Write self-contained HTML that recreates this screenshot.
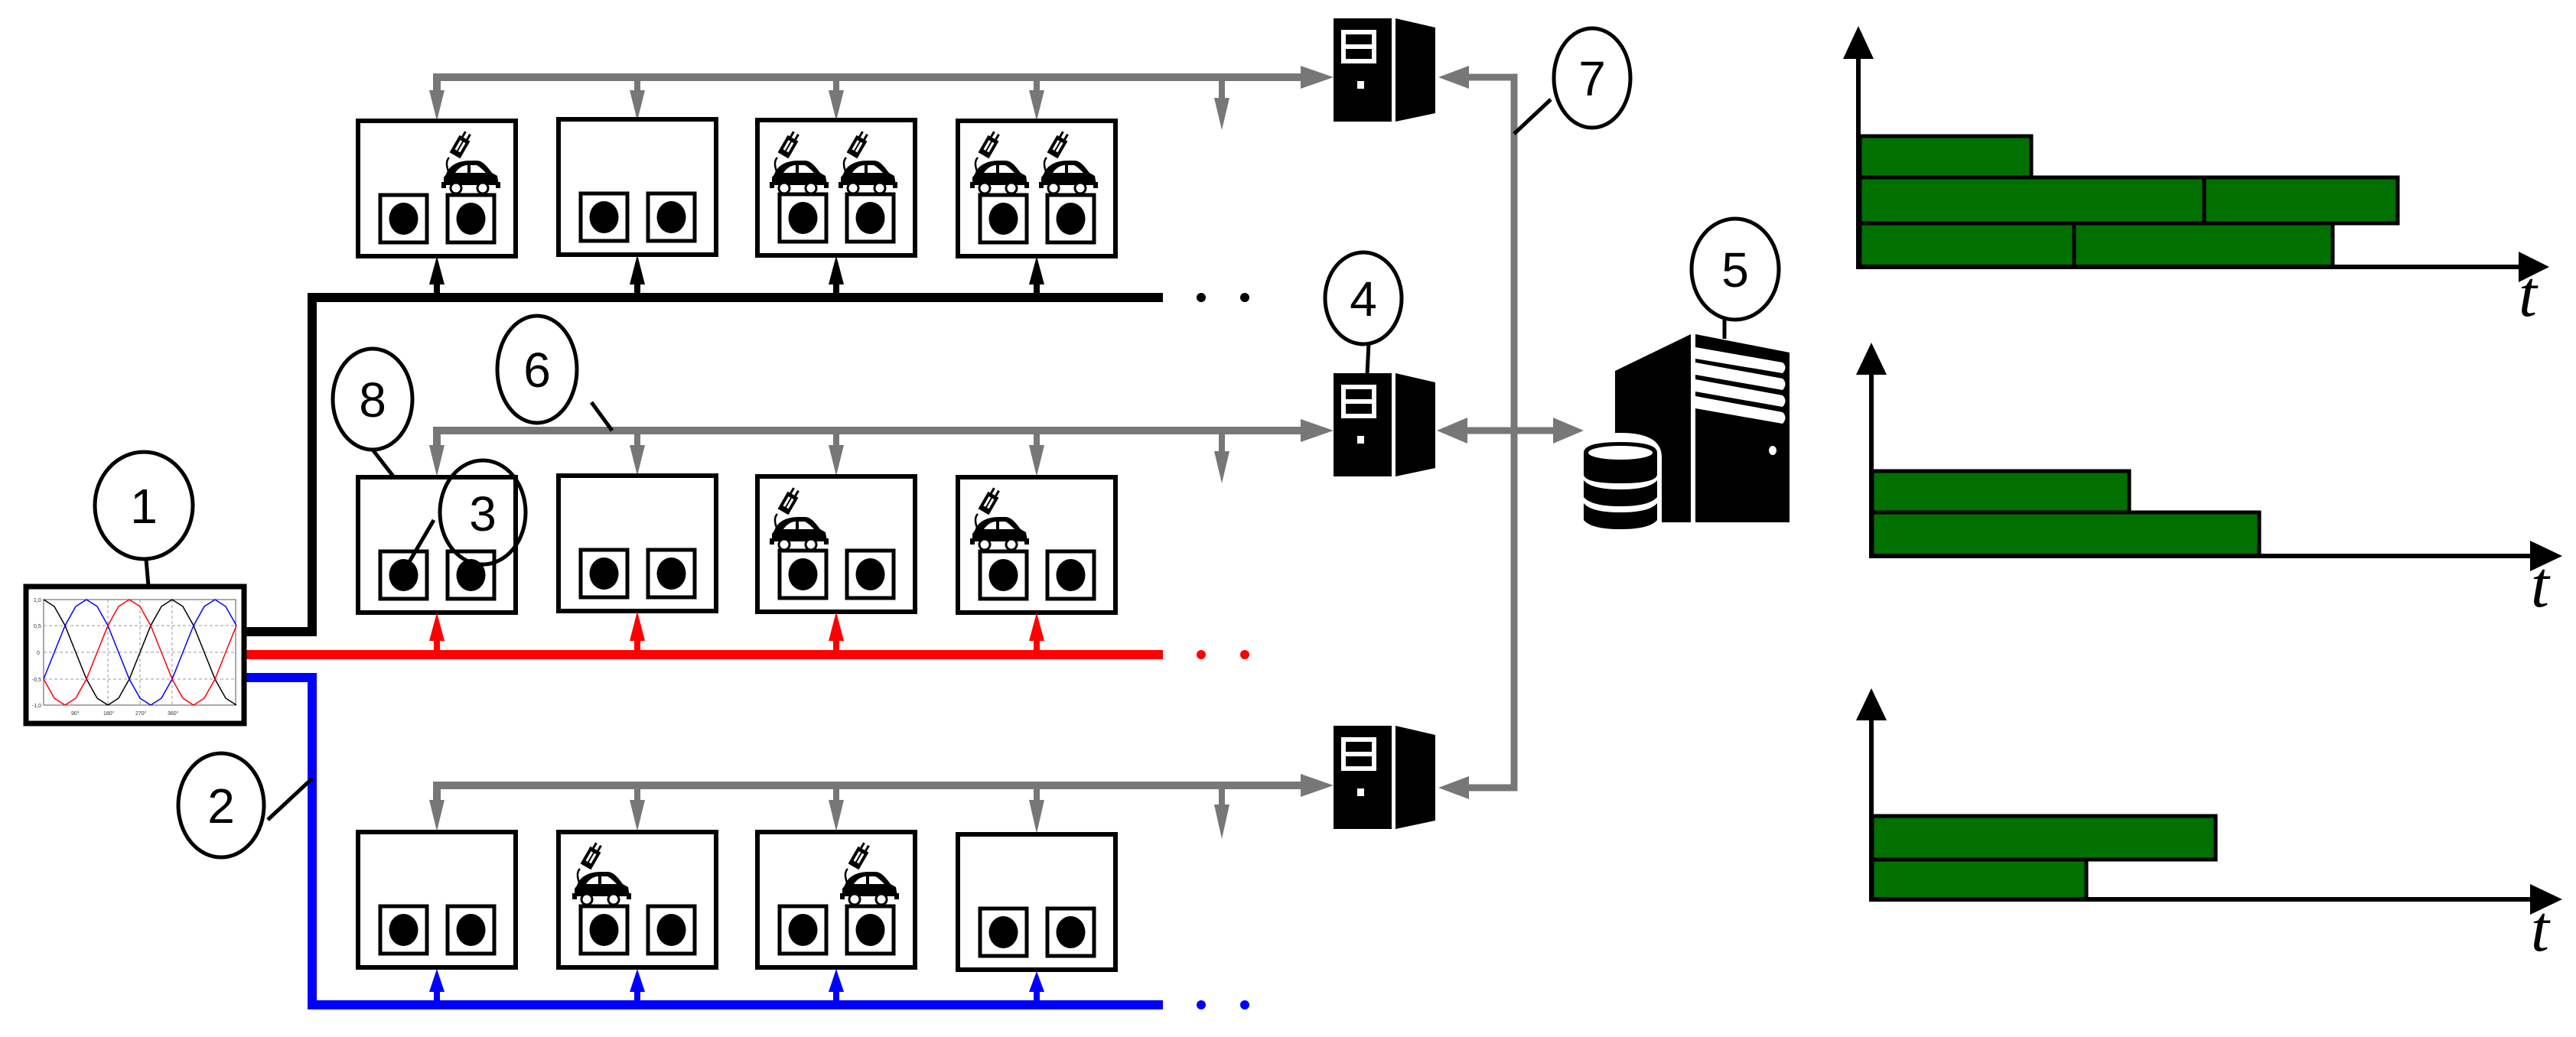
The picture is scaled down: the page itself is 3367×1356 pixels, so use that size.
<!DOCTYPE html>
<html><head><meta charset="utf-8"><style>
html,body{margin:0;padding:0;background:#fff;}
svg{display:block;}
text{font-family:"Liberation Sans",sans-serif;}
</style></head><body>
<svg width="3367" height="1356" viewBox="0 0 3367 1356" xmlns="http://www.w3.org/2000/svg">
<defs>
  <g id="st">
    <rect x="0" y="0" width="206" height="177" fill="#fff" stroke="#000" stroke-width="6"/>
    <rect x="29" y="97" width="61" height="62" fill="#fff" stroke="#000" stroke-width="5"/>
    <rect x="117" y="97" width="61" height="62" fill="#fff" stroke="#000" stroke-width="5"/>
    <ellipse cx="59.5" cy="128" rx="19" ry="21" fill="#000"/>
    <ellipse cx="147.5" cy="128" rx="19" ry="21" fill="#000"/>
  </g>
  <g id="car">
    <path d="M12,56 C8,46 4,36 10,30" fill="none" stroke="#000" stroke-width="2.5"/>
    <g transform="translate(24,16) rotate(30)">
      <rect x="-8" y="-13" width="16" height="26" fill="#000"/>
      <rect x="-4" y="-8" width="3" height="14" fill="#fff"/>
      <rect x="1" y="-8" width="3" height="14" fill="#fff"/>
      <rect x="-5" y="-21" width="3" height="8" fill="#000"/>
      <rect x="2" y="-21" width="3" height="8" fill="#000"/>
    </g>
    <path d="M6,52 C10,40 22,34 38,34 L46,34 C54,34 60,42 66,50 L73,54 L75,66 L3,66 L3,56 Z" fill="#000"/>
    <path d="M18,50 C22,44 28,40 34,40 L34,50 Z M38,40 L46,40 C50,42 54,46 58,50 L38,50 Z" fill="#fff"/>
    <rect x="0" y="62" width="6" height="8" fill="#000"/>
    <rect x="71" y="62" width="6" height="8" fill="#000"/>
    <circle cx="19" cy="70" r="7" fill="#fff" stroke="#000" stroke-width="3"/>
    <circle cx="54" cy="70" r="7" fill="#fff" stroke="#000" stroke-width="3"/>
  </g>
  <g id="srv">
    <rect x="0" y="0" width="76" height="135" fill="#000"/>
    <rect x="10" y="15" width="46" height="44" fill="#fff"/>
    <rect x="16" y="21" width="34" height="13" fill="#000"/>
    <rect x="16" y="40" width="34" height="13" fill="#000"/>
    <rect x="31" y="82" width="9" height="10" fill="#fff"/>
    <path d="M81,0 L133,12 L133,124 L81,135 Z" fill="#000"/>
  </g>
</defs>

<!-- ===== Row 1 ===== -->
<polyline points="571,124 571,101 1705,101" fill="none" stroke="#777" stroke-width="10"/>
<polygon points="1700,86 1743,101 1700,116" fill="#777"/>
<g stroke="#777" stroke-width="8">
<line x1="833" y1="101" x2="833" y2="125"/><line x1="1093" y1="101" x2="1093" y2="125"/><line x1="1355" y1="101" x2="1355" y2="125"/><line x1="1597" y1="101" x2="1597" y2="135"/>
</g>
<g fill="#777">
<polygon points="561,118 581,118 571,158"/><polygon points="823,118 843,118 833,158"/><polygon points="1083,118 1103,118 1093,158"/><polygon points="1345,118 1365,118 1355,158"/><polygon points="1587,128 1607,128 1597,170"/>
</g>
<use href="#st" x="468" y="158"/><use href="#st" x="730" y="156"/><use href="#st" x="990" y="157"/><use href="#st" x="1252" y="158"/>
<use href="#car" x="577" y="176"/>
<use href="#car" x="1006" y="176"/><use href="#car" x="1096" y="176"/>
<use href="#car" x="1268" y="176"/><use href="#car" x="1358" y="176"/>
<polyline points="318,826 408,826 408,389 1520,389" fill="none" stroke="#000" stroke-width="12"/>
<g stroke="#000" stroke-width="8"><line x1="571" y1="389" x2="571" y2="365"/><line x1="833" y1="389" x2="833" y2="365"/><line x1="1093" y1="389" x2="1093" y2="365"/><line x1="1355" y1="389" x2="1355" y2="365"/></g>
<g fill="#000"><polygon points="561,372 581,372 571,335"/><polygon points="823,372 843,372 833,333"/><polygon points="1083,372 1103,372 1093,334"/><polygon points="1345,372 1365,372 1355,335"/></g>
<circle cx="1570" cy="389" r="6" fill="#000"/><circle cx="1627" cy="389" r="6" fill="#000"/>

<!-- ===== Row 2 ===== -->
<polyline points="571,588 571,563 1705,563" fill="none" stroke="#777" stroke-width="10"/>
<polygon points="1700,548 1743,563 1700,578" fill="#777"/>
<g stroke="#777" stroke-width="8">
<line x1="833" y1="563" x2="833" y2="588"/><line x1="1093" y1="563" x2="1093" y2="588"/><line x1="1355" y1="563" x2="1355" y2="588"/><line x1="1597" y1="563" x2="1597" y2="595"/>
</g>
<g fill="#777">
<polygon points="561,582 581,582 571,623"/><polygon points="823,582 843,582 833,622"/><polygon points="1083,582 1103,582 1093,622"/><polygon points="1345,582 1365,582 1355,623"/><polygon points="1587,590 1607,590 1597,632"/>
</g>
<use href="#st" x="468" y="624"/><use href="#st" x="730" y="622"/><use href="#st" x="990" y="623"/><use href="#st" x="1252" y="624"/>
<use href="#car" x="1006" y="642"/><use href="#car" x="1268" y="642"/>
<line x1="318" y1="856" x2="1520" y2="856" stroke="#f00" stroke-width="12"/>
<g stroke="#f00" stroke-width="8"><line x1="571" y1="856" x2="571" y2="832"/><line x1="833" y1="856" x2="833" y2="832"/><line x1="1093" y1="856" x2="1093" y2="832"/><line x1="1355" y1="856" x2="1355" y2="832"/></g>
<g fill="#f00"><polygon points="561,838 581,838 571,801"/><polygon points="823,838 843,838 833,799"/><polygon points="1083,838 1103,838 1093,800"/><polygon points="1345,838 1365,838 1355,801"/></g>
<circle cx="1570" cy="856" r="6" fill="#f00"/><circle cx="1627" cy="856" r="6" fill="#f00"/>

<!-- ===== Row 3 ===== -->
<polyline points="571,1050 571,1027 1705,1027" fill="none" stroke="#777" stroke-width="10"/>
<polygon points="1700,1012 1743,1027 1700,1042" fill="#777"/>
<g stroke="#777" stroke-width="8">
<line x1="833" y1="1027" x2="833" y2="1052"/><line x1="1093" y1="1027" x2="1093" y2="1052"/><line x1="1355" y1="1027" x2="1355" y2="1052"/><line x1="1597" y1="1027" x2="1597" y2="1058"/>
</g>
<g fill="#777">
<polygon points="561,1046 581,1046 571,1087"/><polygon points="823,1046 843,1046 833,1087"/><polygon points="1083,1046 1103,1046 1093,1087"/><polygon points="1345,1046 1365,1046 1355,1090"/><polygon points="1587,1052 1607,1052 1597,1097"/>
</g>
<use href="#st" x="468" y="1088"/><use href="#st" x="730" y="1088"/><use href="#st" x="990" y="1088"/><use href="#st" x="1252" y="1091"/>
<use href="#car" x="748" y="1106"/><use href="#car" x="1098" y="1106"/>
<polyline points="318,886 408,886 408,1314 1520,1314" fill="none" stroke="#00f" stroke-width="12"/>
<g stroke="#00f" stroke-width="8"><line x1="571" y1="1314" x2="571" y2="1290"/><line x1="833" y1="1314" x2="833" y2="1290"/><line x1="1093" y1="1314" x2="1093" y2="1290"/><line x1="1355" y1="1314" x2="1355" y2="1290"/></g>
<g fill="#00f"><polygon points="561,1297 581,1297 571,1267"/><polygon points="823,1297 843,1297 833,1267"/><polygon points="1083,1297 1103,1297 1093,1267"/><polygon points="1345,1297 1365,1297 1355,1270"/></g>
<circle cx="1570" cy="1314" r="6" fill="#00f"/><circle cx="1627" cy="1314" r="6" fill="#00f"/>

<!-- ===== Waveform box ===== -->
<rect x="34" y="767" width="285" height="179" fill="#fff" stroke="#000" stroke-width="7"/>
<rect x="57" y="784" width="251" height="138" fill="#fff" stroke="#555" stroke-width="1"/>
<g stroke="#999" stroke-width="1" stroke-dasharray="4,3">
<line x1="57" y1="818" x2="308" y2="818"/><line x1="57" y1="853" x2="308" y2="853"/><line x1="57" y1="888" x2="308" y2="888"/>
<line x1="141" y1="784" x2="141" y2="922"/><line x1="183" y1="784" x2="183" y2="922"/><line x1="225" y1="784" x2="225" y2="922"/>
</g>
<polyline fill="none" stroke="#000" stroke-width="1.5" points="57,784 71,793 85,818 99,853 113,888 127,913 141,922 155,913 169,888 183,853 197,818 211,793 225,784 239,793 253,818 267,853 281,888 295,913 309,922"/>
<polyline fill="none" stroke="#00f" stroke-width="1.5" points="57,888 71,853 85,818 99,793 113,784 127,793 141,818 155,853 169,888 183,913 197,922 211,913 225,888 239,853 253,818 267,793 281,784 295,793 309,818"/>
<polyline fill="none" stroke="#f00" stroke-width="1.5" points="57,888 71,913 85,922 99,913 113,888 127,853 141,818 155,793 169,784 183,793 197,818 211,853 225,888 239,913 253,922 267,913 281,888 295,853 309,818"/>
<g font-size="7" fill="#333"><text x="44" y="787">1,0</text><text x="44" y="821">0,5</text><text x="48" y="856">0</text><text x="42" y="891">-0,5</text><text x="42" y="925">-1,0</text>
<text x="93" y="935">90°</text><text x="135" y="935">180°</text><text x="177" y="935">270°</text><text x="219" y="935">360°</text></g>

<!-- ===== Servers ===== -->
<use href="#srv" x="1743" y="24"/>
<use href="#srv" x="1743" y="488"/>
<use href="#srv" x="1743" y="949"/>
<polyline points="1915,101 1979,101 1979,1030 1915,1030" fill="none" stroke="#777" stroke-width="9"/>
<polygon points="1920,86 1880,101 1920,116" fill="#777"/>
<polygon points="1920,1015 1880,1030 1920,1045" fill="#777"/>
<line x1="1915" y1="563" x2="2030" y2="563" stroke="#777" stroke-width="9"/>
<polygon points="1918,546 1878,563 1918,580" fill="#777"/>
<polygon points="2030,546 2070,563 2030,580" fill="#777"/>

<!-- big server -->
<path d="M2111,485 L2210,437 L2210,683 L2111,683 Z" fill="#000"/>
<path d="M2216,437 L2339,461 L2339,683 L2216,683 Z" fill="#000"/>
<g fill="#fff">
<path d="M2216,454 L2330,474 Q2337,480 2330,488 L2216,469 Z"/>
<path d="M2216,474 L2330,495 Q2337,502 2330,510 L2216,490 Z"/>
<path d="M2216,496 L2330,517 Q2337,524 2330,532 L2216,512 Z"/>
<path d="M2216,518 L2330,539 Q2337,546 2330,554 L2216,534 Z"/>
<ellipse cx="2317" cy="589" rx="5" ry="6"/>
</g>
<path d="M2064,588 Q2064,566 2118,566 Q2172,566 2172,598 L2172,700 L2064,700 Z" fill="#fff"/>
<g fill="#000">
<path d="M2070,592 Q2070,578 2118,578 Q2166,578 2166,592 L2166,620 Q2166,632 2118,632 Q2070,632 2070,620 Z"/>
<path d="M2070,628 Q2080,640 2118,640 Q2156,640 2166,628 L2166,650 Q2156,662 2118,662 Q2080,662 2070,650 Z"/>
<path d="M2070,658 Q2080,670 2118,670 Q2156,670 2166,658 L2166,680 Q2156,692 2118,692 Q2080,692 2070,680 Z"/>
</g>
<ellipse cx="2118" cy="592" rx="42" ry="9" fill="#fff"/>

<!-- ===== Charts ===== -->
<g stroke="#000" stroke-width="5" fill="#007000">
<rect x="2431" y="178" width="224" height="54"/>
<rect x="2431" y="232" width="450" height="60"/><rect x="2881" y="232" width="253" height="60"/>
<rect x="2431" y="292" width="280" height="57"/><rect x="2711" y="292" width="338" height="57"/>
</g>
<polyline points="2429,75 2429,349 3295,349" fill="none" stroke="#000" stroke-width="6"/>
<polygon points="2409,77 2449,77 2429,34" fill="#000"/>
<polygon points="3292,329 3292,369 3332,349" fill="#000"/>
<text x="3292" y="413" font-family="Liberation Serif,serif" font-style="italic" font-size="86" style="font-family:'Liberation Serif',serif">t</text>

<g stroke="#000" stroke-width="5" fill="#007000">
<rect x="2447" y="616" width="336" height="54"/>
<rect x="2447" y="670" width="506" height="57"/>
</g>
<polyline points="2446,488 2446,727 3310,727" fill="none" stroke="#000" stroke-width="6"/>
<polygon points="2426,490 2466,490 2446,448" fill="#000"/>
<polygon points="3307,707 3307,747 3349,727" fill="#000"/>
<text x="3308" y="793" font-style="italic" font-size="86" style="font-family:'Liberation Serif',serif">t</text>

<g stroke="#000" stroke-width="5" fill="#007000">
<rect x="2447" y="1067" width="449" height="57"/>
<rect x="2447" y="1124" width="280" height="52"/>
</g>
<polyline points="2446,940 2446,1176 3310,1176" fill="none" stroke="#000" stroke-width="6"/>
<polygon points="2426,942 2466,942 2446,900" fill="#000"/>
<polygon points="3307,1156 3307,1196 3349,1176" fill="#000"/>
<text x="3308" y="1243" font-style="italic" font-size="86" style="font-family:'Liberation Serif',serif">t</text>

<!-- ===== Callout circles ===== -->
<g fill="none" stroke="#000" stroke-width="5">
<ellipse cx="188" cy="661" rx="64" ry="70"/>
<line x1="191" y1="731" x2="194" y2="767"/>
<ellipse cx="487" cy="522" rx="52" ry="66"/>
<line x1="487" y1="588" x2="515" y2="624"/>
<ellipse cx="702" cy="483" rx="52" ry="70"/>
<line x1="773" y1="526" x2="800" y2="563"/>
<ellipse cx="631" cy="670" rx="56" ry="68"/>
<line x1="567" y1="680" x2="523" y2="755"/>
<ellipse cx="289" cy="1053" rx="56" ry="68"/>
<line x1="350" y1="1072" x2="408" y2="1018"/>
<ellipse cx="1782" cy="390" rx="50" ry="60"/>
<line x1="1789" y1="448" x2="1787" y2="490"/>
<ellipse cx="2268" cy="352" rx="57" ry="66"/>
<line x1="2254" y1="417" x2="2254" y2="443"/>
<ellipse cx="2081" cy="102" rx="50" ry="65"/>
<line x1="2027" y1="130" x2="1979" y2="175"/>
</g>
<g font-size="64" text-anchor="middle" fill="#000">
<text x="188" y="684">1</text>
<text x="487" y="545">8</text>
<text x="702" y="506">6</text>
<text x="631" y="694">3</text>
<text x="289" y="1076">2</text>
<text x="1782" y="413">4</text>
<text x="2268" y="375">5</text>
<text x="2081" y="125">7</text>
</g>
</svg>
</body></html>
